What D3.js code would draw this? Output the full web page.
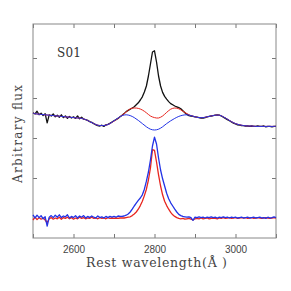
<!DOCTYPE html>
<html>
    <head>
        <meta charset="UTF-8"/>
        <style>
            body { margin: 0; background: #fff; }
        </style>
    </head>
    <body>
        <svg width="291" height="291"></svg>
        <script src="https://d3js.org/d3.v7.min.js" type="text/javascript"></script>
        <script>
            // wavelength grid of the spectra (5 A steps) and of the fitted models (10 A steps)
            let waveObs = [
                2500, 2505, 2510, 2515, 2520, 2525, 2530, 2535, 2540, 2545,
                2550, 2555, 2560, 2565, 2570, 2575, 2580, 2585, 2590, 2595,
                2600, 2605, 2610, 2615, 2620, 2625, 2630, 2635, 2640, 2645,
                2650, 2655, 2660, 2665, 2670, 2675, 2680, 2685, 2690, 2695,
                2700, 2705, 2710, 2715, 2720, 2725, 2730, 2735, 2740, 2745,
                2750, 2755, 2760, 2765, 2770, 2775, 2780, 2785, 2790, 2795,
                2800, 2805, 2810, 2815, 2820, 2825, 2830, 2835, 2840, 2845,
                2850, 2855, 2860, 2865, 2870, 2875, 2880, 2885, 2890, 2895,
                2900, 2905, 2910, 2915, 2920, 2925, 2930, 2935, 2940, 2945,
                2950, 2955, 2960, 2965, 2970, 2975, 2980, 2985, 2990, 2995,
                3000, 3005, 3010, 3015, 3020, 3025, 3030, 3035, 3040, 3045,
                3050, 3055, 3060, 3065, 3070, 3075, 3080, 3085, 3090, 3095,
                3100];
            let waveModel = [
                2500, 2510, 2520, 2530, 2540, 2550, 2560, 2570, 2580, 2590,
                2600, 2610, 2620, 2630, 2640, 2650, 2660, 2670, 2680, 2690,
                2700, 2710, 2720, 2730, 2740, 2750, 2760, 2770, 2780, 2790,
                2800, 2810, 2820, 2830, 2840, 2850, 2860, 2870, 2880, 2890,
                2900, 2910, 2920, 2930, 2940, 2950, 2960, 2970, 2980, 2990,
                3000, 3010, 3020, 3030, 3040, 3050, 3060, 3070, 3080, 3090,
                3100];

            // S01 spectrum (offset upward)
            let fluxS01 = [
                2.63, 2.60, 2.67, 2.58, 2.62, 2.56, 2.61, 2.38, 2.58, 2.55,
                2.60, 2.53, 2.57, 2.52, 2.58, 2.51, 2.55, 2.49, 2.54, 2.50,
                2.53, 2.49, 2.55, 2.48, 2.52, 2.47, 2.46, 2.44, 2.41, 2.39,
                2.36, 2.33, 2.31, 2.30, 2.32, 2.29, 2.33, 2.34, 2.37, 2.40,
                2.43, 2.46, 2.49, 2.53, 2.57, 2.61, 2.66, 2.69, 2.72, 2.75,
                2.78, 2.83, 2.88, 2.95, 3.03, 3.15, 3.30, 3.55, 3.85, 4.15,
                4.18, 3.90, 3.55, 3.30, 3.14, 3.04, 2.97, 2.91, 2.86, 2.83,
                2.80, 2.78, 2.76, 2.73, 2.68, 2.63, 2.59, 2.56, 2.55, 2.54,
                2.53, 2.52, 2.51, 2.50, 2.50, 2.51, 2.53, 2.54, 2.55, 2.56,
                2.57, 2.58, 2.57, 2.55, 2.52, 2.49, 2.46, 2.43, 2.40, 2.37,
                2.35, 2.33, 2.32, 2.31, 2.31, 2.30, 2.30, 2.29, 2.30, 2.29,
                2.29, 2.30, 2.29, 2.29, 2.30, 2.28, 2.29, 2.29, 2.28, 2.29,
                2.29];
            // two model continua under the upper spectrum
            let modelRed = [
                2.62, 2.60, 2.59, 2.58, 2.57, 2.56, 2.55, 2.54, 2.53, 2.52,
                2.51, 2.50, 2.49, 2.46, 2.41, 2.36, 2.32, 2.31, 2.32, 2.36,
                2.42, 2.49, 2.57, 2.65, 2.73, 2.75, 2.74, 2.70, 2.63, 2.55,
                2.51, 2.50, 2.55, 2.64, 2.72, 2.75, 2.73, 2.67, 2.61, 2.56,
                2.53, 2.51, 2.51, 2.53, 2.55, 2.57, 2.57, 2.53, 2.47, 2.41,
                2.36, 2.33, 2.31, 2.30, 2.30, 2.29, 2.29, 2.29, 2.29, 2.29,
                2.29];
            let modelBlue = [
                2.62, 2.60, 2.59, 2.58, 2.57, 2.56, 2.55, 2.54, 2.53, 2.52,
                2.51, 2.50, 2.49, 2.46, 2.41, 2.36, 2.32, 2.31, 2.32, 2.36,
                2.43, 2.50, 2.56, 2.58, 2.56, 2.51, 2.44, 2.36, 2.28, 2.22,
                2.20, 2.22, 2.28, 2.36, 2.43, 2.49, 2.54, 2.57, 2.58, 2.56,
                2.53, 2.51, 2.51, 2.53, 2.55, 2.57, 2.57, 2.53, 2.47, 2.41,
                2.36, 2.33, 2.31, 2.30, 2.30, 2.29, 2.29, 2.29, 2.29, 2.29,
                2.29];

            // continuum-subtracted line profiles (lower pair)
            let lineRed = [
                -0.05, 0.02, -0.04, 0.01, -0.03, 0.00, -0.05, -0.12, -0.02, 0.01,
                -0.03, 0.00, -0.02, 0.02, -0.03, 0.01, -0.01, 0.02, -0.02, 0.01,
                -0.03, 0.00, -0.02, 0.02, -0.01, 0.01, -0.02, 0.00, -0.01, 0.02,
                -0.01, 0.00, -0.02, 0.01, -0.01, 0.00, -0.02, 0.01, -0.01, 0.00,
                -0.01, 0.00, -0.01, 0.00, 0.00, 0.00, 0.01, 0.02, 0.03, 0.06,
                0.10, 0.15, 0.22, 0.31, 0.42, 0.56, 0.72, 0.95, 1.25, 1.71,
                1.69, 1.40, 1.08, 0.80, 0.58, 0.42, 0.31, 0.22, 0.14, 0.08,
                0.04, 0.01, -0.01, -0.02, -0.01, -0.03, -0.02, -0.01, -0.03, -0.05,
                -0.02, -0.01, -0.02, 0.00, -0.02, -0.01, 0.00, -0.02, -0.01, 0.00,
                -0.01, -0.02, 0.00, -0.01, 0.01, -0.01, 0.00, 0.01, -0.01, 0.00,
                0.01, -0.01, 0.00, 0.01, 0.00, 0.01, -0.01, 0.00, 0.01, -0.01,
                0.00, 0.01, 0.00, -0.01, 0.00, 0.01, 0.00, -0.01, 0.00, 0.01,
                0.00];
            let lineBlue = [
                0.08, 0.00, 0.07, 0.01, 0.06, -0.02, 0.03, -0.20, 0.02, 0.06,
                0.01, 0.07, 0.02, 0.08, 0.01, 0.05, 0.03, 0.08, 0.00, 0.04,
                0.01, 0.06, 0.00, 0.05, 0.02, 0.06, 0.00, 0.04, 0.01, 0.05,
                0.02, 0.00, 0.05, 0.01, 0.03, 0.00, 0.04, 0.01, 0.04, 0.02,
                0.04, 0.02, 0.05, 0.04, 0.04, 0.05, 0.07, 0.10, 0.15, 0.22,
                0.30, 0.37, 0.44, 0.50, 0.58, 0.72, 0.92, 1.15, 1.45, 1.80,
                2.02, 1.85, 1.50, 1.20, 0.98, 0.80, 0.62, 0.48, 0.38, 0.30,
                0.22, 0.15, 0.09, 0.06, 0.04, 0.03, 0.02, 0.03, 0.01, -0.06,
                0.02, 0.01, 0.03, 0.01, 0.02, 0.00, 0.02, 0.01, 0.03, 0.01,
                0.02, 0.00, 0.02, 0.01, 0.03, 0.01, 0.02, 0.00, 0.02, 0.01,
                0.02, 0.00, 0.01, 0.02, 0.00, 0.01, 0.02, 0.00, 0.01, 0.02,
                0.00, 0.01, 0.02, 0.00, 0.01, -0.01, 0.02, 0.00, 0.01, 0.03,
                0.01];

            let xTicks = [2500, 2600, 2700, 2800, 2900, 3000, 3100];
            let xLabels = [2600, 2800, 3000];
            let yTicks = [1, 2, 3, 4];

            let svg = d3.select("svg");
            let padL = 33, padR = 276, padT = 24, padB = 238;

            let x = d3.scaleLinear().domain([2500, 3100]).range([padL, padR]);
            let y = d3.scaleLinear().domain([-0.5, 4.85]).range([padB, padT]);

            let fmt = function(d) { return xLabels.indexOf(d) >= 0 ? d : ""; };

            function styleAxis(g) {
                g.select(".domain").remove();
                g.selectAll(".tick line").attr("stroke", "#777");
                g.selectAll(".tick text")
                    .attr("fill", "#444")
                    .attr("font-family", "Liberation Sans, Arial, sans-serif")
                    .attr("font-size", 10);
            }

            svg.append("g").attr("transform", "translate(0," + padB + ")")
                .call(d3.axisBottom(x).tickValues(xTicks).tickSize(-4).tickPadding(8).tickFormat(fmt))
                .call(styleAxis);
            svg.append("g").attr("transform", "translate(0," + padT + ")")
                .call(d3.axisTop(x).tickValues(xTicks).tickSize(-4).tickFormat(""))
                .call(styleAxis);
            svg.append("g").attr("transform", "translate(" + padL + ",0)")
                .call(d3.axisLeft(y).tickValues(yTicks).tickSize(-4).tickFormat(""))
                .call(styleAxis);
            svg.append("g").attr("transform", "translate(" + padR + ",0)")
                .call(d3.axisRight(y).tickValues(yTicks).tickSize(-4).tickFormat(""))
                .call(styleAxis);

            svg.append("rect")
                .attr("x", padL).attr("y", padT)
                .attr("width", padR - padL).attr("height", padB - padT)
                .attr("fill", "none").attr("stroke", "#888").attr("stroke-width", 1);

            let plot = svg.append("g");

            function drawLine(wave, flux, color, width, curve) {
                let line = d3.line()
                    .x(function(d, i) { return x(wave[i]); })
                    .y(function(d) { return y(d); })
                    .curve(curve);
                plot.append("path")
                    .datum(flux)
                    .attr("d", line)
                    .attr("fill", "none")
                    .attr("stroke", color)
                    .attr("stroke-width", width)
                    .attr("stroke-linejoin", "round");
            }

            drawLine(waveObs, fluxS01, "#111", 1.3, d3.curveLinear);
            drawLine(waveModel, modelRed, "#e8261f", 1, d3.curveCatmullRom);
            drawLine(waveModel, modelBlue, "#2233e6", 1, d3.curveCatmullRom);
            drawLine(waveObs, lineRed, "#e8261f", 1.3, d3.curveLinear);
            drawLine(waveObs, lineBlue, "#2233e6", 1.3, d3.curveLinear);

            svg.append("text")
                .attr("x", 57).attr("y", 57)
                .attr("font-family", "DejaVu Serif, serif")
                .attr("font-size", 12)
                .attr("textLength", 24)
                .attr("fill", "#333")
                .text("S01");

            svg.append("text")
                .attr("x", 86).attr("y", 267)
                .attr("font-family", "DejaVu Serif, serif")
                .attr("font-size", 12.5)
                .attr("textLength", 141)
                .attr("lengthAdjust", "spacing")
                .attr("fill", "#444")
                .text("Rest wavelength(Å )");

            svg.append("text")
                .attr("transform", "translate(22,183) rotate(-90)")
                .attr("font-family", "DejaVu Serif, serif")
                .attr("font-size", 12)
                .attr("textLength", 98)
                .attr("lengthAdjust", "spacing")
                .attr("fill", "#444")
                .text("Arbitrary flux");
        </script>
    </body>
</html>
